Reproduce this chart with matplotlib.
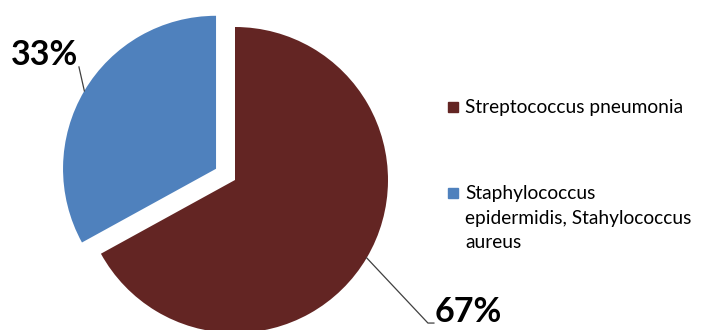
import numpy as np
import matplotlib.pyplot as plt
from matplotlib.patches import Rectangle

# data
categories = ['Streptococcus pneumonia',
              'Staphylococcus\nepidermidis, Stahylococcus\naureus']
shares = [67, 33]
pct_labels = ['67%', '33%']
colors = ['#632523', '#4F81BD']

plt.rcParams['font.family'] = ['Lato', 'DejaVu Sans']

W, H = 701, 330
fig = plt.figure(figsize=(W / 100, H / 100), dpi=100)
ax = fig.add_axes([0, 0, 1, 1])

# pie centre at (235, 180) px, radius 153 px
cx, cy, r = 235, 180, 153
ax.axis('off')

wedges, _ = ax.pie(shares, colors=colors, startangle=90, counterclock=False,
                   explode=[0, 0.144], radius=1,
                   wedgeprops=dict(linewidth=0))
ax.set_xlim(-cx / r, (W - cx) / r)
ax.set_ylim(-(H - cy) / r, cy / r)
ax.set_aspect('auto')

# percentage labels with leader lines
label_pos = [(1.523, -0.865), (-1.242, 0.815)]
for w, lab, (tx, ty) in zip(wedges, pct_labels, label_pos):
    mid = np.deg2rad((w.theta1 + w.theta2) / 2)
    x0 = w.center[0] + np.cos(mid) * w.r
    y0 = w.center[1] + np.sin(mid) * w.r
    ax.text(tx, ty, lab, fontsize=24.5, fontweight='bold', ha='center',
            va='center', color='black')
    if tx > 0:
        ax.plot([x0, 1.261, 1.30], [y0, -0.935, -0.935], color='#404040', lw=0.9)
    else:
        ax.plot([x0, -1.020], [y0, 0.739], color='#404040', lw=0.9)

# legend
leg_y = [107, 193]
for cat, col, yy in zip(categories, colors, leg_y):
    fig.patches.append(Rectangle((448 / W, 1 - (yy + 5) / H), 10 / W, 10 / H,
                                 transform=fig.transFigure, color=col))
    fig.text(465 / W, 1 - (yy - 8) / H, cat, fontsize=13.8, va='top',
             ha='left', linespacing=1.55, color='black')

fig.savefig('out.png', dpi=100)
